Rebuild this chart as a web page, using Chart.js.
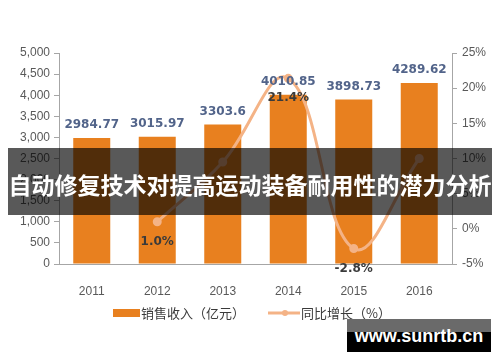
<!DOCTYPE html>
<html><head><meta charset="utf-8">
<script src="https://cdn.jsdelivr.net/npm/chart.js@4.4.0/dist/chart.umd.min.js"></script>
<style>
html,body{margin:0;padding:0;background:#fff;}
#wrap{position:relative;width:500px;height:362px;overflow:hidden;background:#fff;}
#c{position:absolute;left:0;top:0;}
#banner{position:absolute;left:8px;top:148px;width:484px;height:67px;background:rgba(0,0,0,0.65);}
#btext{position:absolute;left:0;top:152px;width:500px;height:64px;line-height:64px;text-align:center;color:#fff;font-weight:bold;font-size:23px;font-family:"Noto Sans CJK SC";white-space:nowrap;}
#wm{position:absolute;left:347px;top:319px;width:144px;height:33px;background:linear-gradient(#6a6a6a 0,#6a6a6a 40%,#000 40%,#000 100%);}
#wmt{position:absolute;left:347px;top:319px;width:144px;height:33px;line-height:34px;text-align:center;color:#fff;font-weight:bold;font-size:18px;font-family:"Liberation Sans";white-space:nowrap;}
</style>
</head><body>
<div id="wrap">
<canvas id="c" width="500" height="362"></canvas>
<div id="banner"></div>
<div id="btext">自动修复技术对提高运动装备耐用性的潜力分析</div>
<div id="wm"></div>
<div id="wmt">www.sunrtb.cn</div>
</div>
<script>
const years = ['2011','2012','2013','2014','2015','2016'];
const revenue = [2984.77, 3015.97, 3303.6, 4010.85, 3898.73, 4289.62];
const revenueLabels = ['2984.77','3015.97','3303.6','4010.85','3898.73','4289.62'];
const growth = [null, 1.0, 9.5, 21.4, -2.8, 10.0];
const growthLabels = [null, '1.0%', null, '21.4%', '-2.8%', null];
const legendNames = ['销售收入（亿元）', '同比增长（%）'];

const BAR = '#E8801F';
const LINE = '#F4B386';

Chart.defaults.font.family = '"Liberation Sans", Arial, sans-serif';
Chart.defaults.font.size = 12;
Chart.defaults.color = '#595959';

const labelPlugin = {
  id: 'valueLabels',
  afterDatasetsDraw(chart) {
    const ctx = chart.ctx;
    ctx.save();
    ctx.textAlign = 'center';
    ctx.textBaseline = 'middle';
    ctx.font = 'bold 12px "DejaVu Sans"';
    ctx.fillStyle = '#52648a';
    chart.getDatasetMeta(1).data.forEach((el, i) => {
      ctx.fillText(revenueLabels[i], el.x, el.y - 13);
    });
    ctx.fillStyle = '#3a3a3a';
    chart.getDatasetMeta(0).data.forEach((el, i) => {
      if (growthLabels[i]) ctx.fillText(growthLabels[i], el.x, el.y + 20);
    });
    ctx.restore();
  }
};

const legendPlugin = {
  id: 'customLegend',
  afterDraw(chart) {
    const ctx = chart.ctx;
    ctx.save();
    ctx.fillStyle = BAR;
    ctx.fillRect(113, 309, 27, 8);
    ctx.font = '13px "Noto Sans CJK SC"';
    ctx.fillStyle = '#3a3a3a';
    ctx.textAlign = 'left';
    ctx.textBaseline = 'middle';
    ctx.fillText(legendNames[0], 141, 313);
    ctx.strokeStyle = LINE;
    ctx.lineWidth = 3;
    ctx.beginPath();
    ctx.moveTo(268, 313);
    ctx.lineTo(300, 313);
    ctx.stroke();
    ctx.fillStyle = LINE;
    ctx.beginPath();
    ctx.arc(285, 313, 3, 0, Math.PI * 2);
    ctx.fill();
    ctx.fillStyle = '#3a3a3a';
    ctx.fillText(legendNames[1], 301, 313);
    ctx.restore();
  }
};

new Chart(document.getElementById('c'), {
  data: {
    labels: years,
    datasets: [
      {
        type: 'line',
        label: legendNames[1],
        data: growth,
        yAxisID: 'y1',
        borderColor: LINE,
        backgroundColor: LINE,
        borderWidth: 3,
        tension: 0.4,
        pointRadius: 3,
        pointBackgroundColor: LINE,
        pointBorderColor: LINE,
        spanGaps: false,
        order: 0
      },
      {
        type: 'bar',
        label: legendNames[0],
        data: revenue,
        yAxisID: 'y',
        backgroundColor: BAR,
        borderWidth: 0,
        categoryPercentage: 1,
        barPercentage: 0.565,
        order: 1
      }
    ]
  },
  options: {
    responsive: false,
    animation: false,
    layout: { padding: { top: 53, left: 0, right: 0, bottom: 0 } },
    plugins: { legend: { display: false }, tooltip: { enabled: false } },
    scales: {
      x: {
        grid: { display: false },
        border: { display: true, color: '#a6a6a6', width: 1 },
        ticks: { padding: 12, color: '#595959', font: { size: 12 } },
        afterFit(s) { s.height = 98; }
      },
      y: {
        position: 'left',
        min: 0, max: 5000,
        ticks: { stepSize: 500, padding: 4, color: '#595959', callback: v => v.toLocaleString('en-US') },
        grid: { display: true, drawOnChartArea: false, drawTicks: true, tickLength: 5, color: '#a6a6a6' },
        border: { display: true, color: '#a6a6a6' },
        afterFit(s) { s.width = 59; }
      },
      y1: {
        position: 'right',
        min: -5, max: 25,
        ticks: { stepSize: 5, padding: 5, color: '#595959', callback: v => v + '%' },
        grid: { display: true, drawOnChartArea: false, drawTicks: true, tickLength: 5, color: '#a6a6a6' },
        border: { display: true, color: '#a6a6a6' },
        afterFit(s) { s.width = 48; }
      }
    }
  },
  plugins: [labelPlugin, legendPlugin]
});
</script>
</body></html>
